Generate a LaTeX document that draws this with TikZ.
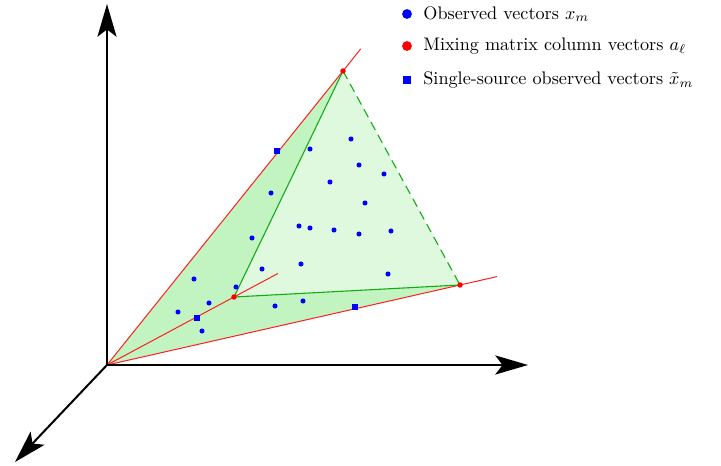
\documentclass[tikz,border=0pt]{standalone}
\usetikzlibrary{arrows.meta,calc}
\definecolor{darkfill}{RGB}{194,244,194}
\definecolor{lightfill}{RGB}{223,249,223}
\definecolor{edgegreen}{RGB}{20,170,20}
\definecolor{rayred}{RGB}{255,30,30}
\tikzset{
  axis/.style={line width=1.1pt,-{Stealth[length=18pt,width=10.5pt,inset=4pt]}},
  ray/.style={rayred,line width=0.55pt},
  edge/.style={edgegreen,line width=0.6pt},
  obs/.style={circle,fill=blue,inner sep=0pt,minimum size=2.8pt},
  mix/.style={circle,fill=red,inner sep=0pt,minimum size=3pt},
  single/.style={rectangle,fill=blue,inner sep=0pt,minimum size=3.6pt},
  legtext/.style={anchor=west,inner sep=0pt,font=\normalsize}
}
\begin{document}
\begin{tikzpicture}[x=0.55pt,y=-0.55pt]
\useasboundingbox (0,0) rectangle (721,466);
\coordinate (O) at (107,365);
\coordinate (A1) at (343,71);
\coordinate (A2) at (460,285);
\coordinate (A3) at (234,297);
\coordinate (Y) at (107,4);
\coordinate (X) at (528,365);
\coordinate (Z) at (15,462);
\coordinate (E1) at ($(O)!1.075!(A1)$);
\coordinate (E2) at ($(O)!1.105!(A2)$);
\coordinate (E3) at ($(O)!1.346!(A3)$);
% fills
\fill[darkfill] (O) -- (A1) -- (A3) -- cycle;
\fill[darkfill] (O) -- (A3) -- (A2) -- cycle;
\fill[lightfill] (A1) -- (A3) -- (A2) -- cycle;
% rays
\draw[ray] (O) -- (E1);
\draw[ray] (O) -- (E2);
\draw[ray] (O) -- (E3);
% edges
\draw[edge] (A3) -- (A1);
\draw[edge] (A3) -- (A2);
\draw[edge,dashed,dash pattern=on 5pt off 3pt] (A1) -- (A2);
% axes
\draw[axis] (O) -- (Y);
\draw[axis] (O) -- (X);
\draw[axis] (O) -- (Z);
% observed vectors
\foreach \p [count=\i] in {(351,139),(310,149),(359,165),(384,174),(330,182),(271,193),(365,203),(299,226),(310,228),(334,230),(359,234),(391,231),(252,238),(262,269),(301,264),(388,274),(194,279),(236,287),(209,303),(275,306),(303,301),(178,312),(202,331)}
  \node[obs] (x\i) at \p {};
% single-source
\node[single] (s1) at (277,151) {};
\node[single] (s2) at (355,307) {};
\node[single] (s3) at (197,318) {};
% mixing vectors
\node[mix] (a1) at (A1) {};
\node[mix] (a2) at (A2) {};
\node[mix] (a3) at (A3) {};
% legend
\node[circle,fill=blue,inner sep=0pt,minimum size=5.4pt] (l1) at (407,14) {};
\node[legtext] (t1) at (423,14) {Observed vectors $x_m$};
\node[circle,fill=red,inner sep=0pt,minimum size=5.4pt] (l2) at (407,46) {};
\node[legtext] (t2) at (423,46) {Mixing matrix column vectors $a_\ell$};
\node[rectangle,fill=blue,inner sep=0pt,minimum size=4.8pt] (l3) at (407,80) {};
\node[legtext] (t3) at (423,80) {Single-source observed vectors $\tilde{x}_m$};
\end{tikzpicture}
\end{document}
